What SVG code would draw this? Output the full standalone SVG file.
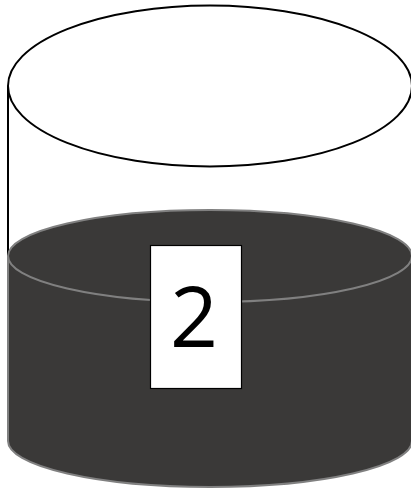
<svg xmlns="http://www.w3.org/2000/svg" width="411" height="488" viewBox="0 0 411 488">
<style>
.outline{fill:none;stroke:#000;stroke-width:2}
.liquid{fill:#3a3938;stroke:#808080;stroke-width:2}
.surface{fill:none;stroke:#808080;stroke-width:2}
.label{fill:#fff;stroke:#000;stroke-width:1.2}
.num{font-family:"Open Sans","Noto Sans",sans-serif;font-size:84px;fill:#000}
</style>
<g id="container">
<ellipse class="outline" cx="210" cy="86" rx="202" ry="80.5"/>
<line class="outline" x1="8" y1="86" x2="8" y2="260"/>
<line class="outline" x1="412" y1="86" x2="412" y2="260"/>
</g>
<g id="liquid">
<path class="liquid" d="M8,256 A202,46 0 0 1 412,256 L412,441 A202,46 0 0 1 8,441 Z"/>
<path class="surface" d="M8,256 A202,46 0 0 0 412,256"/>
</g>
<g id="label">
<rect class="label" x="150.5" y="245.5" width="91" height="143"/>
<text class="num" x="194" y="347" text-anchor="middle">2</text>
</g>
</svg>
